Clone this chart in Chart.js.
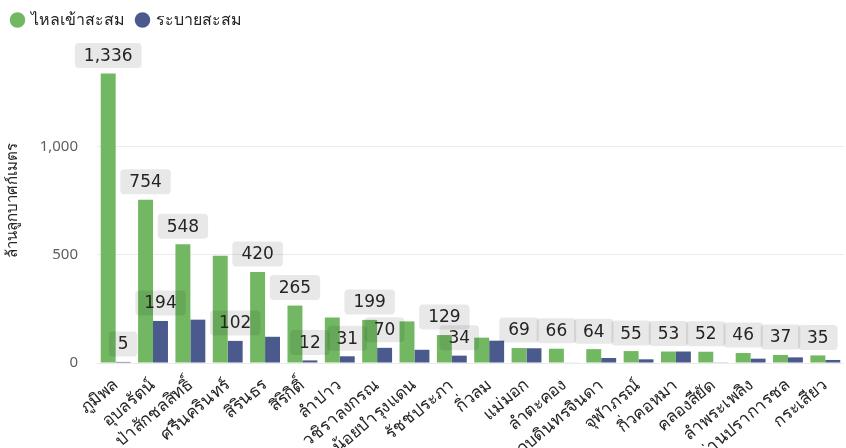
<!DOCTYPE html>
<html>
<head>
<meta charset="utf-8">
<script src="https://cdn.jsdelivr.net/npm/chart.js@4/dist/chart.umd.min.js"></script>
<style>
  html, body { margin: 0; padding: 0; background: #fff; }
  #wrap { width: 846px; height: 448px; }
</style>
</head>
<body>
<div id="wrap"><canvas id="dams"></canvas></div>
<script>
const dams = ['ภูมิพล', 'อุบลรัตน์', 'ป่าสักชลสิทธิ์', 'ศรีนครินทร์', 'สิรินธร', 'สิริกิติ์', 'ลำปาว', 'วชิราลงกรณ',
    'แควน้อยบำรุงแดน', 'รัชชประภา', 'กิ่วลม', 'แม่มอก', 'ลำตะคอง', 'นฤบดินทรจินดา', 'จุฬาภรณ์', 'กิ่วคอหมา',
    'คลองสียัด', 'ลำพระเพลิง', 'ขุนด่านปราการชล', 'กระเสียว'];
const inflow = [1336, 754, 548, 495, 420, 265, 210, 199, 192, 129, 117, 69, 66, 64, 55, 53, 52, 46, 37, 35];
const release = [5, 194, 200, 102, 121, 12, 31, 70, 61, 34, 103, 68, 2, 23, 17, 53, 3, 20, 26, 14];
// which values power bi kept a label for
const inflowShown = [1, 1, 1, 0, 1, 1, 0, 1, 0, 1, 0, 1, 1, 1, 1, 1, 1, 1, 1, 1];
const releaseShown = [1, 1, 0, 1, 0, 1, 1, 1, 0, 1, 0, 0, 0, 0, 0, 0, 0, 0, 0, 0];
const yTicks = [0, 500, 1000];

const fmt = new Intl.NumberFormat('en-US');

const boxLabels = {
    id: 'boxLabels',
    afterDatasetsDraw(chart) {
        const ctx = chart.ctx;
        const masks = [inflowShown, releaseShown];
        ctx.save();
        ctx.font = '17px "DejaVu Sans", sans-serif';
        ctx.textAlign = 'center';
        ctx.textBaseline = 'middle';
        chart.data.datasets.forEach((ds, di) => {
            const meta = chart.getDatasetMeta(di);
            meta.data.forEach((bar, i) => {
                if (!masks[di][i]) return;
                const txt = fmt.format(ds.data[i]);
                const w = ctx.measureText(txt).width + 18;
                const h = 25;
                const cy = bar.y - 18;
                ctx.fillStyle = 'rgba(0,0,0,0.09)';
                ctx.beginPath();
                ctx.roundRect(bar.x - w / 2, cy - h / 2, w, h, 4);
                ctx.fill();
                ctx.fillStyle = '#252423';
                ctx.fillText(txt, bar.x, cy + 1);
            });
        });
        ctx.restore();
    }
};

new Chart(document.getElementById('dams'), {
    type: 'bar',
    data: {
        labels: dams,
        datasets: [{
            label: 'ไหลเข้าสะสม',
            data: inflow,
            backgroundColor: '#72b862',
            categoryPercentage: 0.8,
            barPercentage: 1.0
        }, {
            label: 'ระบายสะสม',
            data: release,
            backgroundColor: '#4b5a8c',
            categoryPercentage: 0.8,
            barPercentage: 1.0
        }]
    },
    options: {
        responsive: true,
        maintainAspectRatio: false,
        animation: false,
        layout: { padding: { left: 0, right: 2, top: 0, bottom: 0 } },
        plugins: {
            legend: {
                position: 'top',
                align: 'start',
                labels: {
                    usePointStyle: true,
                    pointStyle: 'circle',
                    boxWidth: 11,
                    boxHeight: 11,
                    padding: 12,
                    color: '#252423',
                    font: { size: 16, family: '"Noto Sans", sans-serif' }
                }
            },
            tooltip: { enabled: false }
        },
        scales: {
            x: {
                grid: { display: false },
                border: { display: false },
                afterFit: (axis) => { axis.height = 85; },
                ticks: {
                    autoSkip: false,
                    maxRotation: 40,
                    minRotation: 40,
                    padding: 4,
                    color: '#252423',
                    font: { size: 17, family: '"Noto Sans", sans-serif' }
                }
            },
            y: {
                min: 0,
                max: 1500,
                afterBuildTicks: (axis) => { axis.ticks = yTicks.map(v => ({ value: v })); },
                afterFit: (axis) => { axis.width = 97; },
                grid: { color: '#ebebeb', drawTicks: false },
                border: { display: false },
                ticks: {
                    padding: 19,
                    color: '#605e5c',
                    font: { size: 15, family: '"Noto Sans", sans-serif' },
                    callback: (v) => fmt.format(v)
                },
                title: {
                    display: true,
                    text: 'ล้านลูกบาศก์เมตร',
                    color: '#252423',
                    padding: { top: 4, bottom: 0 },
                    font: { size: 15, family: '"Noto Sans", sans-serif' }
                }
            }
        }
    },
    plugins: [boxLabels]
});
</script>
</body>
</html>
